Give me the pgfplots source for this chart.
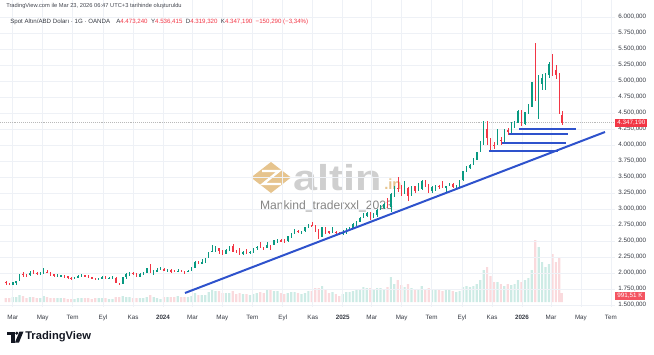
\documentclass[border=0pt]{standalone}
\usepackage{pgfplots}
\pgfplotsset{compat=1.18}
\usepackage{pgfplotstable}
\usepackage{graphicx}
\usepackage{fontspec}
\setmainfont{Liberation Sans}
\definecolor{tvred}{HTML}{F23645}
\definecolor{tvgreen}{HTML}{089981}
\definecolor{volred}{HTML}{FADADD}
\definecolor{volgreen}{HTML}{CDEBE5}
\definecolor{gridc}{HTML}{EEF1F6}
\definecolor{tline}{HTML}{2E52CC}
\definecolor{txt}{HTML}{131722}
\definecolor{gold}{HTML}{E6C48E}
\definecolor{wmgray}{HTML}{CFCFCF}
\definecolor{wmtext}{HTML}{858585}

% weekly OHLC (day index from 1 Jan 2023) and volume
\pgfplotstableread{
d o h l c v
45 1865 1870 1819 1842 4
52 1842 1847 1805 1811 4
59 1811 1858 1805 1856 5
66 1856 1870 1810 1868 5
73 1868 1990 1868 1989 7
80 1989 2010 1935 1978 6
87 1978 1988 1945 1969 4
94 1969 2032 1950 2007 5
101 2007 2048 1992 2004 5
108 2004 2015 1969 1983 4
115 1983 2009 1975 1990 4
122 1990 2079 1980 2017 6
129 2017 2048 2000 2011 5
136 2011 2022 1952 1978 4
143 1978 1985 1937 1946 4
150 1946 1983 1932 1948 4
157 1948 1972 1940 1961 4
164 1961 1971 1925 1958 4
171 1958 1960 1910 1921 3
178 1921 1930 1893 1919 3
185 1919 1935 1902 1925 3
192 1925 1963 1920 1955 4
199 1955 1987 1945 1962 4
206 1962 1975 1943 1959 4
213 1959 1970 1925 1943 4
220 1943 1945 1910 1914 3
227 1914 1918 1885 1889 4
234 1889 1925 1885 1915 4
241 1915 1953 1913 1940 4
248 1940 1953 1914 1919 4
255 1919 1933 1901 1924 3
262 1924 1947 1913 1925 3
269 1925 1932 1846 1848 5
276 1848 1850 1810 1833 5
283 1833 1933 1833 1932 6
290 1932 1997 1908 1981 5
297 1981 2009 1954 2006 5
304 2006 2010 1970 1993 4
311 1993 1993 1932 1940 4
318 1940 1993 1931 1981 4
325 1981 2008 1965 2002 4
332 2002 2075 2001 2072 5
339 2072 2135 1995 2004 7
346 2004 2048 1973 2019 5
353 2019 2071 2016 2053 4
360 2053 2088 2053 2063 3
367 2063 2079 2030 2045 5
374 2045 2062 2013 2049 5
381 2049 2060 2002 2029 5
388 2029 2041 2010 2018 5
395 2018 2065 2016 2039 6
402 2039 2045 2014 2024 5
409 2024 2031 1984 2013 5
416 2013 2041 2013 2035 5
423 2035 2088 2024 2083 6
430 2083 2195 2083 2179 9
437 2179 2185 2146 2156 7
444 2156 2222 2146 2166 7
451 2166 2236 2163 2233 7
458 2233 2331 2228 2330 10
465 2330 2432 2325 2344 12
472 2344 2418 2324 2392 11
479 2392 2392 2291 2337 11
486 2337 2352 2277 2301 9
493 2301 2378 2291 2360 9
500 2360 2422 2336 2415 9
507 2415 2450 2325 2334 11
514 2334 2364 2320 2327 8
521 2327 2388 2287 2294 9
528 2294 2336 2287 2333 8
535 2333 2368 2303 2322 8
542 2322 2339 2293 2326 7
549 2326 2392 2319 2392 8
556 2392 2424 2352 2411 9
563 2411 2483 2393 2400 10
570 2400 2412 2353 2387 9
577 2387 2477 2384 2443 12
584 2443 2443 2364 2431 12
591 2431 2509 2430 2508 11
598 2508 2531 2470 2512 11
605 2512 2528 2494 2503 9
612 2503 2529 2471 2497 8
619 2497 2578 2485 2577 9
626 2577 2625 2546 2622 10
633 2622 2685 2614 2658 10
640 2658 2670 2625 2653 9
647 2653 2660 2603 2657 8
654 2657 2722 2640 2721 9
661 2721 2758 2708 2747 11
668 2747 2790 2730 2736 11
675 2736 2750 2643 2685 14
682 2685 2685 2536 2563 14
689 2563 2721 2563 2716 16
696 2716 2721 2605 2650 12
703 2650 2658 2613 2633 9
710 2633 2726 2630 2648 10
717 2648 2664 2583 2622 8
724 2622 2639 2603 2621 6
731 2621 2665 2597 2640 8
738 2640 2697 2614 2690 10
745 2690 2726 2656 2703 10
752 2703 2785 2689 2770 11
759 2770 2817 2730 2800 12
766 2800 2882 2790 2861 13
773 2861 2942 2856 2883 15
780 2883 2955 2880 2936 14
787 2936 2956 2833 2858 14
794 2858 2930 2856 2910 13
801 2910 3005 2880 2984 14
808 2984 3057 2982 3023 14
815 3023 3087 3000 3085 13
822 3085 3168 3015 3037 15
829 3037 3245 2957 3237 25
836 3237 3358 3193 3327 18
843 3327 3500 3260 3319 22
850 3319 3368 3202 3240 17
857 3240 3435 3240 3325 15
864 3325 3340 3121 3202 18
871 3202 3366 3200 3357 14
878 3357 3365 3245 3289 13
885 3289 3403 3289 3310 13
892 3310 3446 3293 3433 16
899 3433 3452 3340 3368 13
906 3368 3398 3255 3274 14
913 3274 3365 3247 3337 12
920 3337 3368 3283 3355 12
927 3355 3377 3309 3350 12
934 3350 3439 3324 3337 11
941 3337 3364 3268 3363 12
948 3363 3409 3352 3398 12
955 3398 3404 3331 3336 11
962 3336 3378 3311 3371 10
969 3371 3453 3351 3448 11
976 3448 3600 3436 3586 15
983 3586 3674 3577 3643 16
990 3643 3707 3628 3685 15
997 3685 3791 3680 3760 16
1004 3760 3897 3760 3886 18
1011 3886 4059 3886 4018 22
1018 4018 4380 4000 4251 32
1025 4251 4381 4004 4113 35
1032 4113 4113 3886 4002 26
1039 4002 4046 3930 4000 20
1046 4000 4245 4000 4085 20
1053 4085 4130 3997 4065 18
1060 4065 4245 4040 4240 16
1067 4240 4264 4160 4200 18
1074 4200 4353 4165 4300 17
1081 4300 4375 4270 4340 18
1088 4340 4550 4340 4530 22
1095 4530 4550 4300 4330 20
1102 4330 4520 4310 4510 22
1109 4510 4640 4480 4600 24
1116 4600 4990 4590 4980 32
1123 4980 5595 4680 4880 62
1130 4880 5090 4400 4960 55
1137 4960 5110 4860 5040 40
1144 5040 5120 4860 5100 35
1151 5100 5300 5050 5270 38
1158 5270 5420 5080 5170 48
1165 5170 5250 5030 5100 40
1172 5100 5120 4480 4497 45
1177 4473 4536 4319 4347 9
}\candles

\begin{document}
\begin{tikzpicture}
\useasboundingbox (0,0) rectangle (490.5pt,-265.5pt);

% watermark (behind the chart)
\begin{scope}[x=0.75pt,y=-0.75pt]
  \fill[gold] (271,162) -- (291,177.5) -- (271,193) -- (251,177.5) -- cycle;
  \draw[white, line width=1.8pt] (262,171) -- (279,171) -- (263,184) -- (281,184);
  \node[anchor=west, inner sep=0pt, text=wmgray, font=\fontsize{27}{27}\selectfont\bfseries] at (293,178) {\scalebox{1.2}[1]{altin}};
  \node[anchor=south west, inner sep=0pt, text=gold, font=\fontsize{11}{11}\selectfont\bfseries] at (384,190) {.in};
  \node[inner sep=0pt, text=wmtext, font=\fontsize{9.1}{10}\selectfont] at (326.5,206) {Mankind\_traderxxl\_2023};
\end{scope}

% volume pane
\begin{axis}[at={(0,0)}, anchor=north west, scale only axis,
  width=461.25pt, height=230.25pt,
  xmin=33.1, xmax=1285.4, ymin=-5, ymax=302, hide axis]
  \addplot[ybar, bar width=4.5, bar shift=0pt, fill=volgreen, draw=none,
    x filter/.expression={\thisrow{c}>=\thisrow{o} ? x : nan}] table[x=d,y=v]{\candles};
  \addplot[ybar, bar width=4.5, bar shift=0pt, fill=volred, draw=none,
    x filter/.expression={\thisrow{c}<\thisrow{o} ? x : nan}] table[x=d,y=v]{\candles};
\end{axis}

% price pane
\begin{axis}[at={(0,0)}, anchor=north west, scale only axis,
  width=461.25pt, height=230.25pt,
  xmin=33.1, xmax=1285.4, ymin=1468.75, ymax=6265.6,
  axis line style={draw=none}, major tick length=0pt,
  xtick={59,120,181,243,304,365,425,486,547,609,670,731,790,851,912,974,1035,1096,1155,1216,1277},
  xticklabels={Mar,May,Tem,Eyl,Kas,\textbf{2024},Mar,May,Tem,Eyl,Kas,\textbf{2025},Mar,May,Tem,Eyl,Kas,\textbf{2026},Mar,May,Tem},
  ytick={1500,1750,...,6000},
  yticklabels={{1.500,000},{1.750,000},{2.000,000},{2.250,000},{2.500,000},{2.750,000},{3.000,000},{3.250,000},{3.500,000},{3.750,000},{4.000,000},{4.250,000},{4.500,000},{4.750,000},{5.000,000},{5.250,000},{5.500,000},{5.750,000},{6.000,000}},
  yticklabel pos=right,
  grid=major, grid style={gridc, line width=0.5pt},
  tick label style={font=\fontsize{4.7}{5.5}\selectfont, text=txt!85},
  yticklabel style={anchor=west, inner sep=0pt, xshift=2.3pt},
  xticklabel style={anchor=north, inner sep=0pt, yshift=-5.6pt},
]
  % last price line
  \addplot[gray!55, densely dotted, line width=0.45pt] coordinates {(33.1,4347.19) (1285.4,4347.19)};
  % wicks
  \addplot[draw=none, mark=none, x filter/.expression={\thisrow{c}>=\thisrow{o} ? x : nan},
    error bars/.cd, y dir=both, y explicit, error mark=none,
    error bar style={draw=tvgreen, line width=0.3pt}]
    table[x=d, y expr={(\thisrow{h}+\thisrow{l})/2}, y error expr={(\thisrow{h}-\thisrow{l})/2}]{\candles};
  \addplot[draw=none, mark=none, x filter/.expression={\thisrow{c}<\thisrow{o} ? x : nan},
    error bars/.cd, y dir=both, y explicit, error mark=none,
    error bar style={draw=tvred, line width=0.3pt}]
    table[x=d, y expr={(\thisrow{h}+\thisrow{l})/2}, y error expr={(\thisrow{h}-\thisrow{l})/2}]{\candles};
  % bodies
  \addplot[draw=none, mark=none, x filter/.expression={\thisrow{c}>=\thisrow{o} ? x : nan},
    error bars/.cd, y dir=both, y explicit, error mark=none,
    error bar style={draw=tvgreen, line width=1.0pt}]
    table[x=d, y expr={(\thisrow{o}+\thisrow{c})/2}, y error expr={abs(\thisrow{c}-\thisrow{o})/2}]{\candles};
  \addplot[draw=none, mark=none, x filter/.expression={\thisrow{c}<\thisrow{o} ? x : nan},
    error bars/.cd, y dir=both, y explicit, error mark=none,
    error bar style={draw=tvred, line width=1.0pt}]
    table[x=d, y expr={(\thisrow{o}+\thisrow{c})/2}, y error expr={abs(\thisrow{c}-\thisrow{o})/2}]{\candles};
  % drawn trend line and supports
  \addplot[tline, line width=1.5pt] coordinates {(409.8,1687.5) (1265,4203)};
  \addplot[tline, line width=1.5pt] coordinates {(1090,4250) (1206,4250)};
  \addplot[tline, line width=1.5pt] coordinates {(1069.5,4167) (1189.7,4167)};
  \addplot[tline, line width=1.5pt] coordinates {(1055,4026) (1185.6,4026)};
  \addplot[tline, line width=1.5pt] coordinates {(1028.8,3901) (1169.3,3901)};
\end{axis}

% overlays in pixel coordinates
\begin{scope}[x=0.75pt,y=-0.75pt]
  \node[anchor=west, fill=tvred, text=white, inner xsep=1.6pt, inner ysep=1.1pt,
        font=\fontsize{4.7}{5}\selectfont] at (615,122.8) {4.347,190};
  \node[anchor=west, fill=tvred!85, text=white, inner xsep=1.6pt, inner ysep=1.0pt,
        font=\fontsize{4.7}{5}\selectfont] at (615,296) {991,51 K};
  \node[anchor=west, inner sep=0pt, text=txt!80, font=\fontsize{4.3}{5}\selectfont]
     at (6,6) {TradingView.com ile Mar 23, 2026 06:47 UTC+3 tarihinde oluşturuldu};
  \node[anchor=west, inner sep=0pt, text=txt!85, font=\fontsize{4.6}{5.5}\selectfont]
     at (10,22) {Spot Altın/ABD Doları · 1G · OANDA\quad A\textcolor{tvred}{4.473,240}\ \ Y\textcolor{tvred}{4.536,415}\ \ D\textcolor{tvred}{4.319,320}\ \ K\textcolor{tvred}{4.347,190}\ \ \textcolor{tvred}{−150,290 (−3,34\%)}};
  % TradingView logo
  \fill[txt] (7,331.5) rectangle (14.5,335);
  \fill[txt] (11,331.5) rectangle (14.5,342.5);
  \fill[txt] (16.8,333.2) circle (1.7);
  \fill[txt] (19.5,331.5) -- (23.5,331.5) -- (19,342.5) -- (15,342.5) -- cycle;
  \node[anchor=west, inner sep=0pt, text=txt, font=\fontsize{8.4}{9}\selectfont\bfseries] at (25,337) {TradingView};
\end{scope}
\end{tikzpicture}
\end{document}
